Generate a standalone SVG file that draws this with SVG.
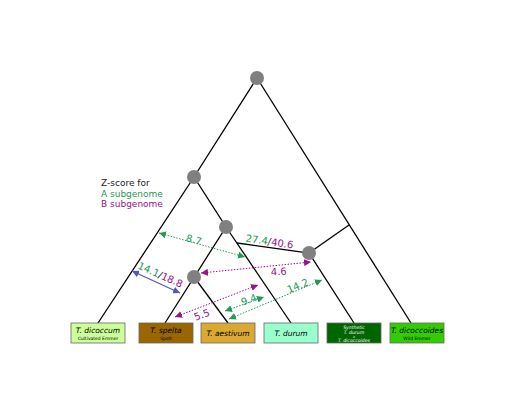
<svg xmlns="http://www.w3.org/2000/svg" width="515" height="415" viewBox="0 0 515 415">
<style>
text{font-family:"DejaVu Sans",sans-serif}
.br{stroke:#000;stroke-width:1.3;fill:none}
.nd{fill:#808080}
.box{stroke:#666;stroke-width:0.8}
.lbl{font-size:10px}
.g{fill:#229955}
.p{fill:#991188}
.k{fill:#222}
.ag{stroke:#229955;stroke-width:1;stroke-dasharray:1.5,1.5;fill:none}
.ap{stroke:#991188;stroke-width:1;stroke-dasharray:1.5,1.5;fill:none}
.ab{stroke:#5555bb;stroke-width:1.2;fill:none}
.it{font-style:italic}
</style>
<defs>
<marker id="mg" viewBox="0 0 10 10" refX="10" refY="5" markerWidth="7" markerHeight="7" markerUnits="userSpaceOnUse" orient="auto-start-reverse"><path d="M0,0L10,5L0,10z" fill="#229955"/></marker>
<marker id="mp" viewBox="0 0 10 10" refX="10" refY="5" markerWidth="7" markerHeight="7" markerUnits="userSpaceOnUse" orient="auto-start-reverse"><path d="M0,0L10,5L0,10z" fill="#991188"/></marker>
<marker id="mb" viewBox="0 0 10 10" refX="10" refY="5" markerWidth="7" markerHeight="7" markerUnits="userSpaceOnUse" orient="auto-start-reverse"><path d="M0,0L10,5L0,10z" fill="#5555bb"/></marker>
</defs>
<rect width="515" height="415" fill="#fff"/>
<g id="branches">
<path class="br" d="M257,78L194,177L98,323"/>
<path class="br" d="M257,78L411,323"/>
<path class="br" d="M194,177L226,227L165,323"/>
<path class="br" d="M194,277L228,323"/>
<path class="br" d="M226,227L291,323"/>
<path class="br" d="M237,243L309,253L354,323"/>
<path class="br" d="M309,253L349,225"/>
</g>
<g id="connectors">
<path class="ag" d="M159,233L245,257" marker-start="url(#mg)" marker-end="url(#mg)"/>
<path class="ab" d="M132,271L180,293" marker-start="url(#mb)" marker-end="url(#mb)"/>
<path class="ap" d="M201,273L311,262" marker-start="url(#mp)" marker-end="url(#mp)"/>
<path class="ap" d="M175,317L258,285" marker-start="url(#mp)" marker-end="url(#mp)"/>
<path class="ag" d="M225,311L264,297" marker-start="url(#mg)" marker-end="url(#mg)"/>
<path class="ag" d="M229,319L322,280" marker-start="url(#mg)" marker-end="url(#mg)"/>
</g>
<g id="labels" class="lbl">
<text transform="translate(193,243) rotate(15)" text-anchor="middle" class="g">8.7</text>
<text transform="translate(159,278) rotate(24)" text-anchor="middle"><tspan class="g">14.1</tspan><tspan class="k">/</tspan><tspan class="p">18.8</tspan></text>
<text transform="translate(269,245) rotate(8.5)" text-anchor="middle"><tspan class="g">27.4</tspan><tspan class="k">/</tspan><tspan class="p">40.6</tspan></text>
<text transform="translate(279,275) rotate(-3)" text-anchor="middle" class="p">4.6</text>
<text transform="translate(203,318) rotate(-20)" text-anchor="middle" class="p">5.5</text>
<text transform="translate(250,303) rotate(-20)" text-anchor="middle" class="g">9.4</text>
<text transform="translate(299,289) rotate(-22)" text-anchor="middle" class="g">14.2</text>
</g>
<g id="legend" font-size="9">
<text x="101" y="186" class="k">Z-score for</text>
<text x="101" y="197" class="g">A subgenome</text>
<text x="101" y="207" class="p">B subgenome</text>
</g>
<g id="n-root"><circle class="nd" cx="257" cy="78" r="7"/></g>
<g id="n-1"><circle class="nd" cx="194" cy="177" r="7"/></g>
<g id="n-2"><circle class="nd" cx="226" cy="227" r="7"/></g>
<g id="n-3"><circle class="nd" cx="194" cy="277" r="7"/></g>
<g id="n-4"><circle class="nd" cx="309" cy="253" r="7"/></g>
<g id="dicoccum">
<rect class="box" x="71" y="323" width="54" height="20" fill="#ccff99"/>
<text x="98" y="333" font-size="7.5" text-anchor="middle"><tspan class="it">T. dicoccum</tspan></text>
<text x="98" y="340" font-size="4.5" text-anchor="middle">Cultivated Emmer</text>
</g>
<g id="spelta">
<rect class="box" x="139" y="323" width="54" height="20" fill="#996600"/>
<text x="166" y="333" font-size="7.5" text-anchor="middle" class="it">T. spelta</text>
<text x="166" y="340" font-size="4.5" text-anchor="middle">Spelt</text>
</g>
<g id="aestivum">
<rect class="box" x="201" y="323" width="54" height="20" fill="#d9a932"/>
<text x="228" y="336" font-size="7.5" text-anchor="middle" class="it">T. aestivum</text>
</g>
<g id="durum">
<rect class="box" x="264" y="323" width="54" height="20" fill="#99ffcc"/>
<text x="291" y="336" font-size="7.5" text-anchor="middle" class="it">T. durum</text>
</g>
<g id="synthetic" fill="#fff">
<rect class="box" x="327" y="323" width="54" height="20" fill="#006600"/>
<text x="354" y="329" font-size="4.6" text-anchor="middle" class="it" fill="#fff">Synthetic</text>
<text x="354" y="334" font-size="4.6" text-anchor="middle" class="it" fill="#fff">T. durum</text>
<text x="354" y="337.6" font-size="3.4" text-anchor="middle" class="it" fill="#fff">x</text>
<text x="354" y="342" font-size="4.6" text-anchor="middle" class="it" fill="#fff">T. dicoccoides</text>
</g>
<g id="dicoccoides">
<rect class="box" x="390" y="323" width="54" height="20" fill="#33cc00"/>
<text x="417" y="333" font-size="7.5" text-anchor="middle" class="it">T. dicoccoides</text>
<text x="417" y="340" font-size="4.5" text-anchor="middle">Wild Emmer</text>
</g>
</svg>
